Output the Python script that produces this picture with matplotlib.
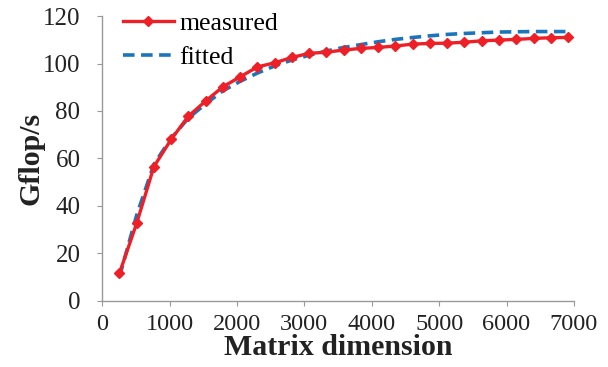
import matplotlib
matplotlib.use("Agg")
import matplotlib.pyplot as plt

dims = [256, 512, 768, 1024, 1280, 1536, 1792, 2048, 2304, 2560, 2816, 3072, 3328,
        3584, 3840, 4096, 4352, 4608, 4864, 5120, 5376, 5632, 5888, 6144, 6400, 6656, 6912]
measured = [11.5, 32.6, 56.5, 68, 77.8, 84.2, 90.2, 94.4, 98.6, 100.3, 102.6, 104.3, 104.8,
            105.7, 106.4, 106.8, 107.4, 108.2, 108.5, 108.6, 109, 109.6, 109.9, 110.2, 110.6, 110.9, 111]
fitted = [10, 36, 57.5, 68.5, 77, 83, 88.5, 92.5, 96, 99, 101.5, 103.5, 105.3,
          106.8, 108, 109.2, 110.2, 111, 111.7, 112.3, 112.7, 113, 113.3, 113.4, 113.5, 113.5, 113.5]
xticks = [0, 1000, 2000, 3000, 4000, 5000, 6000, 7000]
yticks = [0, 20, 40, 60, 80, 100, 120]

plt.rcParams['font.family'] = ['Liberation Serif', 'DejaVu Serif']

fig = plt.figure(figsize=(6.08, 3.67), dpi=100)
ax = fig.add_axes([0.168, 0.181, 0.776, 0.775])

ax.plot(dims, fitted, color='#1B75BC', lw=2.6, ls=(0, (3.2, 1.8)), label='fitted', zorder=2)
ax.plot(dims, measured, color='#EE2027', lw=2.4, marker='D', ms=5, label='measured', zorder=3)

ax.set_xlim(0, 7000)
ax.set_ylim(0, 120)
ax.set_xticks(xticks)
ax.set_yticks(yticks)
for s in ['top', 'right']:
    ax.spines[s].set_visible(False)
for s in ['left', 'bottom']:
    ax.spines[s].set_color('#999999')
    ax.spines[s].set_linewidth(1.0)
ax.tick_params(direction='out', length=3.6, color='#999999', labelcolor='#222222')
ax.tick_params(axis='x', pad=6, labelsize=17.5)
ax.tick_params(axis='y', pad=12, labelsize=18)
ax.set_xlabel('Matrix dimension', fontsize=21.5, fontweight='bold', color='#222222', labelpad=-1)
ax.set_ylabel('Gflop/s', fontsize=21.5, fontweight='bold', color='#222222', labelpad=-1)

h, l = ax.get_legend_handles_labels()
ax.legend(h[::-1], l[::-1], loc='upper left', bbox_to_anchor=(0.022, 1.05), frameon=False,
          fontsize=18.5, handlelength=2.0, handletextpad=0.2, labelspacing=0.42, borderaxespad=0)

fig.savefig('out.png', dpi=100)
